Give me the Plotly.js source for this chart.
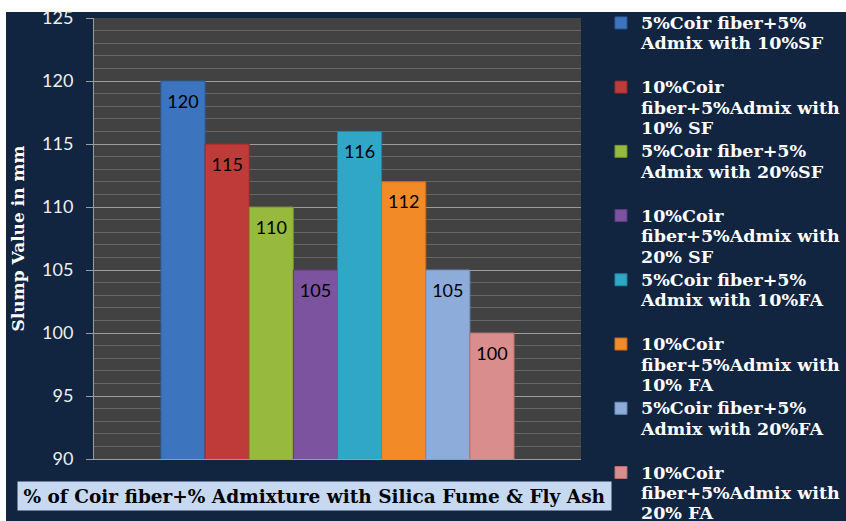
<!DOCTYPE html>
<html><head><meta charset="utf-8">
<script src="https://cdn.plot.ly/plotly-3.0.1.min.js"></script>
<style>html,body{margin:0;padding:0;background:#fff;}</style>
</head><body><div id="chart" style="width:846px;height:521px;"></div>
<script>
// ---- data ----
const group = ["Slump"];
const seriesNames = [
  "5%Coir fiber+5% Admix with 10%SF",
  "10%Coir fiber+5%Admix with 10% SF",
  "5%Coir fiber+5% Admix with 20%SF",
  "10%Coir fiber+5%Admix with 20% SF",
  "5%Coir fiber+5% Admix with 10%FA",
  "10%Coir fiber+5%Admix with 10% FA",
  "5%Coir fiber+5% Admix with 20%FA",
  "10%Coir fiber+5%Admix with 20% FA"
];
const legendLabels = [
  "5%Coir fiber+5%<br>Admix with 10%SF<br>\u00a0",
  "10%Coir<br>fiber+5%Admix with<br>10% SF",
  "5%Coir fiber+5%<br>Admix with 20%SF<br>\u00a0",
  "10%Coir<br>fiber+5%Admix with<br>20% SF",
  "5%Coir fiber+5%<br>Admix with 10%FA<br>\u00a0",
  "10%Coir<br>fiber+5%Admix with<br>10% FA",
  "5%Coir fiber+5%<br>Admix with 20%FA<br>\u00a0",
  "10%Coir<br>fiber+5%Admix with<br>20% FA"
];
const slumpValues = [120, 115, 110, 105, 116, 112, 105, 100];
const yTickValues = [90, 95, 100, 105, 110, 115, 120, 125];
const xTitle = "% of Coir fiber+% Admixture with Silica Fume & Fly Ash";
const yTitle = "Slump Value in mm";

// ---- styles ----
const barColors = ["#3d74be", "#be3b3a", "#97b93d", "#7b539f", "#30a7c7", "#f28b27", "#8eacd9", "#d98e8d"];
const barEdges  = ["#2c5a98", "#962c2b", "#76922c", "#5e3c7e", "#21849f", "#c86d18", "#6e8cba", "#b86f6e"];
const serif = "DejaVu Serif, serif";
const sans = "Lato, Open Sans, sans-serif";

const traces = slumpValues.map((v, i) => ({
  type: "bar",
  x: group,
  y: [v],
  name: legendLabels[i].split("<br>").map(s => "<span style=\"font-size:17.5px\">" + s + "</span>").join("<br>"),
  legendgroup: "g" + i,
  marker: { color: barColors[i], line: { color: barEdges[i], width: 1 } },
  texttemplate: "\u00a0<br><span style=\"font-size:18px\">%{y}</span>",
  textposition: "inside",
  insidetextanchor: "end",
  textfont: { family: sans, size: 10.5, color: "#000000" },
  constraintext: "none",
  hoverinfo: "skip"
}));

const layout = {
  width: 846, height: 521,
  margin: { l: 94, r: 265, t: 18, b: 62, pad: 0, autoexpand: false },
  paper_bgcolor: "#ffffff",
  plot_bgcolor: "#424242",
  barmode: "group",
  bargap: 0.275,
  bargroupgap: 0,
  showlegend: true,
  legend: {
    x: 1.041, xanchor: "left", y: 1.0268, yanchor: "top",
    bgcolor: "rgba(0,0,0,0)",
    font: { family: serif, size: 15.7, color: "#ffffff", weight: "bold" },
    valign: "top",
    tracegroupgap: 0,
    traceorder: "normal",
    maxheight: 2000
  },
  xaxis: {
    type: "category",
    showticklabels: false,
    ticks: "",
    showgrid: false,
    showline: true, linecolor: "#9c9c9c", linewidth: 1,
    zeroline: false, fixedrange: true
  },
  yaxis: {
    range: [90, 125],
    tickvals: yTickValues,
    ticks: "outside", ticklen: 7, tickcolor: "#9c9c9c", tickwidth: 1,
    ticklabelstandoff: 9,
    tickfont: { family: sans, size: 18, color: "#eeeeee" },
    showline: true, linecolor: "#9c9c9c", linewidth: 1,
    showgrid: true, gridcolor: "#9c9c9c", gridwidth: 1,
    minor: { dtick: 1, showgrid: true, gridcolor: "#666666", gridwidth: 1, ticks: "" },
    zeroline: false, fixedrange: true,
    title: { text: yTitle, font: { family: serif, size: 17, color: "#ffffff", weight: "bold" }, standoff: 13 }
  },
  shapes: [
    { type: "rect", xref: "paper", yref: "paper", x0: -0.1807, x1: 1.6, y0: -0.2, y1: 1.0136,
      fillcolor: "#112440", line: { width: 0 }, layer: "below" },
    { type: "rect", xref: "paper", yref: "paper", x0: 0, x1: 1, y0: 0, y1: 1,
      fillcolor: "#424242", line: { width: 0 }, layer: "below" }
  ],
  annotations: [
    { xref: "paper", yref: "paper", x: 0.4528, y: -0.0839, xanchor: "center", yanchor: "middle",
      text: xTitle, showarrow: false,
      font: { family: serif, size: 18.5, color: "#000000", weight: "bold" },
      bgcolor: "#c6d9f1", width: 589, height: 24, borderpad: 2, align: "center" }
  ]
};

Plotly.newPlot("chart", traces, layout, { staticPlot: true, displayModeBar: false });
</script>
</body></html>
